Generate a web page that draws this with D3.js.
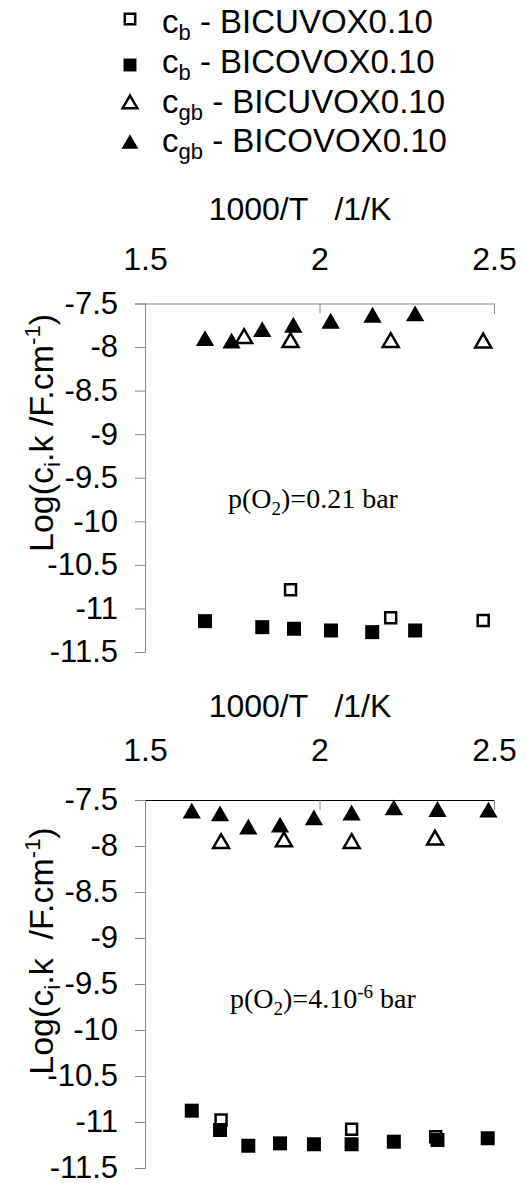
<!DOCTYPE html>
<html>
<head>
<meta charset="utf-8">
<script src="https://cdn.jsdelivr.net/npm/d3@7"></script>
<style>
  body { margin: 0; background: #fff; }
  svg text { font-family: "Liberation Sans", Arial, sans-serif; fill: #000; }
  .serif { font-family: "Liberation Serif", "Times New Roman", serif; }
</style>
</head>
<body>
<svg id="chart" width="527" height="1185"></svg>
<script>
// tick values shared by both panels
const xTicks = [1.5, 2, 2.5];
const yTicks = [-7.5, -8, -8.5, -9, -9.5, -10, -10.5, -11, -11.5];

// p(O2) = 0.21 bar, [1000/T, log(c.k)]
const airCbCu = [[1.917, -10.785], [2.204, -11.107], [2.469, -11.138]];
const airCbCo = [[1.672, -11.146], [1.836, -11.215], [1.927, -11.233], [2.033, -11.253], [2.151, -11.272], [2.274, -11.253]];
const airCgbCu = [[1.784, -7.900], [1.917, -7.946], [2.204, -7.946], [2.469, -7.951]];
const airCgbCo = [[1.672, -7.928], [1.748, -7.957], [1.836, -7.824], [1.925, -7.774], [2.032, -7.728], [2.152, -7.659], [2.274, -7.644]];

// p(O2) = 4.10-6 bar
const lowCbCu = [[1.718, -10.978], [2.092, -11.079], [2.333, -11.160]];
const lowCbCo = [[1.634, -10.877], [1.715, -11.087], [1.796, -11.258], [1.887, -11.232], [1.984, -11.242], [2.092, -11.242], [2.213, -11.214], [2.338, -11.196], [2.482, -11.177]];
const lowCgbCu = [[1.718, -7.971], [1.898, -7.953], [2.092, -7.971], [2.331, -7.935]];
const lowCgbCo = [[1.634, -7.645], [1.715, -7.674], [1.796, -7.818], [1.887, -7.797], [1.984, -7.717], [2.092, -7.666], [2.213, -7.609], [2.338, -7.627], [2.484, -7.634]];

const legendLabels = ["BICUVOX0.10", "BICOVOX0.10", "BICUVOX0.10", "BICOVOX0.10"];
const legendSubs = ["b", "b", "gb", "gb"];

const svg = d3.select("#chart");

// marker styles, in legend order
const markers = [
  { type: d3.symbolSquare, size: 120, fill: "#fff", stroke: "#000", sw: 2.5 },
  { type: d3.symbolSquare, size: 196, fill: "#000", stroke: "none", sw: 0 },
  { type: d3.symbolTriangle, size: 110, fill: "#fff", stroke: "#000", sw: 2.5 },
  { type: d3.symbolTriangle, size: 145, fill: "#000", stroke: "none", sw: 0 }
];

function drawMarker(sel, m, scale) {
  sel.append("path")
    .attr("d", d3.symbol().type(m.type).size(m.size * (scale || 1)))
    .attr("fill", m.fill)
    .attr("stroke", m.stroke)
    .attr("stroke-width", m.sw);
}

/* legend */
const legendRowsY = [33, 73, 113, 152];
const legendSymY = [19, 65, 104, 144];
legendLabels.forEach((lab, i) => {
  const g = svg.append("g").attr("transform", `translate(130,${legendSymY[i]})`);
  drawMarker(g, markers[i], i === 0 ? 0.9 : 0.85);

  const t = svg.append("text")
    .attr("x", 162)
    .attr("y", legendRowsY[i])
    .style("font-size", "33px")
    .style("white-space", "pre");
  t.append("tspan").text("c");
  t.append("tspan").attr("dy", 7).style("font-size", "22px").text(legendSubs[i]);
  t.append("tspan").attr("dy", -7).text(" - " + lab);
});

/**
 * one panel: top x axis, left y axis, four series and the p(O2) note
 */
function drawPanel(cfg) {
  const x = d3.scaleLinear().domain([1.5, 2.5]).range([145, 494]);
  const y = d3.scaleLinear().domain([-7.5, -11.5]).range([cfg.y0, cfg.y1]);

  // title above the axis
  svg.append("text")
    .attr("x", 300)
    .attr("y", cfg.titleY)
    .attr("text-anchor", "middle")
    .style("font-size", "32px")
    .style("white-space", "pre")
    .text("1000/T   /1/K");

  const xAxis = svg.append("g")
    .attr("transform", `translate(0,${cfg.y0})`)
    .call(d3.axisTop(x).tickValues(xTicks).tickSize(-10).tickPadding(cfg.xPad).tickFormat(d => String(d)));
  xAxis.select(".domain").attr("stroke", cfg.xAxisColor);
  xAxis.selectAll(".tick line").attr("stroke", "#888");
  xAxis.selectAll("text").attr("font-family", null).style("font-size", "32px");

  const yAxis = svg.append("g")
    .attr("transform", "translate(145,0)")
    .call(d3.axisLeft(y).tickValues(yTicks).tickSize(10).tickPadding(17).tickFormat(d => String(d)));
  yAxis.select(".domain").attr("stroke", "#888");
  yAxis.selectAll(".tick line").attr("stroke", "#888");
  yAxis.selectAll("text").attr("font-family", null).style("font-size", "31px");

  // y axis label
  const yl = svg.append("text")
    .attr("transform", `translate(53,${cfg.labelY}) rotate(-90)`)
    .attr("text-anchor", "middle")
    .style("font-size", "34px")
    .style("white-space", "pre");
  yl.append("tspan").text("Log(c");
  yl.append("tspan").attr("dy", 7).style("font-size", "22px").text("i");
  yl.append("tspan").attr("dy", -7).text(cfg.unitGap);
  yl.append("tspan").attr("dy", -13).style("font-size", "22px").text("-1");
  yl.append("tspan").attr("dy", 13).text(")");

  // series, drawn in legend order
  cfg.series.forEach((data, i) => {
    svg.append("g")
      .selectAll("g")
      .data(data)
      .join("g")
      .attr("transform", d => `translate(${x(d[0])},${y(d[1])})`)
      .each(function () { drawMarker(d3.select(this), markers[i]); });
  });

  // oxygen partial pressure note
  const note = svg.append("text")
    .attr("class", "serif")
    .attr("x", cfg.noteX)
    .attr("y", cfg.noteY)
    .style("font-size", "28px")
    .style("white-space", "pre");
  note.append("tspan").text("p(O");
  note.append("tspan").attr("dy", 7).style("font-size", "19px").text("2");
  if (cfg.noteExp) {
    note.append("tspan").attr("dy", -7).text(")=" + cfg.noteText);
    note.append("tspan").attr("dy", -10).style("font-size", "19px").text(cfg.noteExp);
    note.append("tspan").attr("dy", 10).text(" bar");
  } else {
    note.append("tspan").attr("dy", -7).text(")=" + cfg.noteText + " bar");
  }
}

drawPanel({
  y0: 303.5, y1: 652, titleY: 220, xPad: 34, xAxisColor: "#888", labelY: 433,
  unitGap: ".k /F.cm",
  series: [airCbCu, airCbCo, airCgbCu, airCgbCo],
  noteX: 228, noteY: 508, noteText: "0.21"
});

drawPanel({
  y0: 800, y1: 1168, titleY: 717, xPad: 39, xAxisColor: "#000", labelY: 951,
  unitGap: ".k  /F.cm",
  series: [lowCbCu, lowCbCo, lowCgbCu, lowCgbCo],
  noteX: 230, noteY: 1008, noteText: "4.10", noteExp: "-6"
});
</script>
</body>
</html>
